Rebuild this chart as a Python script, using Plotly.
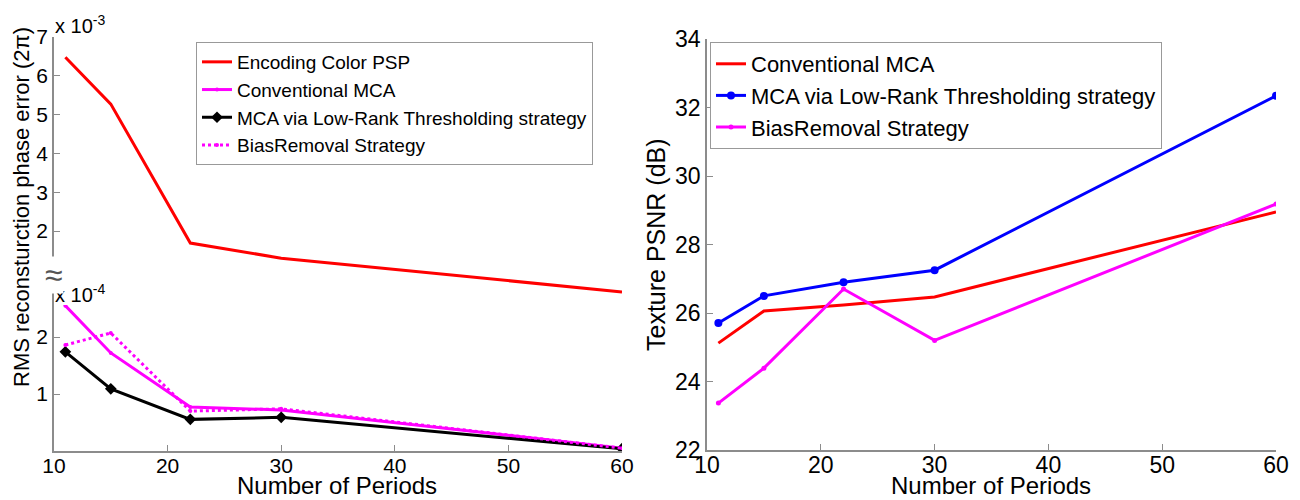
import plotly.graph_objects as go

# ---------------- data ----------------
periods = [11, 15, 22, 30, 60]

# left panel (upper part, x 10^-3)
rms_encoding_psp = [6.48, 5.27, 1.69, 1.30, 0.43]
# left panel (lower part, x 10^-4)
rms_conventional = [2.55, 1.72, 0.77, 0.72, 0.05]
rms_lowrank = [1.74, 1.09, 0.555, 0.59, 0.04]
rms_biasremoval = [1.86, 2.07, 0.70, 0.74, 0.05]

# right panel (dB)
psnr_conventional = [25.12, 26.06, 26.23, 26.47, 28.95]
psnr_lowrank = [25.71, 26.50, 26.90, 27.25, 32.34]
psnr_biasremoval = [23.37, 24.39, 26.70, 25.20, 29.18]

x_ticks = [10, 20, 30, 40, 50, 60]
upper_ticks = [2, 3, 4, 5, 6, 7]
lower_ticks = [1, 2]
right_ticks = [22, 24, 26, 28, 30, 32, 34]

W, H = 1300, 500
FONT = "Liberation Sans, Arial, sans-serif"
AX = "#8c8c8c"
RED, MAG, BLK, BLU = "#ff0000", "#ff00ff", "#000000", "#0000ff"


def px(x):
    return x / W


def py(y):
    return 1 - y / H


fig = go.Figure()

# left panel traces
fig.add_trace(go.Scatter(x=periods, y=rms_encoding_psp, name="Encoding Color PSP",
                         mode="lines", line=dict(color=RED, width=3),
                         xaxis="x", yaxis="y2", legend="legend"))
fig.add_trace(go.Scatter(x=periods, y=rms_conventional, name="Conventional MCA",
                         mode="lines+markers", line=dict(color=MAG, width=3),
                         marker=dict(size=4, color=MAG),
                         xaxis="x", yaxis="y", legend="legend"))
fig.add_trace(go.Scatter(x=periods, y=rms_lowrank, name="MCA via Low-Rank Thresholding strategy",
                         mode="lines+markers", line=dict(color=BLK, width=3),
                         marker=dict(size=9, color=BLK, symbol="diamond"),
                         xaxis="x", yaxis="y", legend="legend"))
fig.add_trace(go.Scatter(x=periods, y=rms_biasremoval, name="BiasRemoval Strategy",
                         mode="lines+markers", line=dict(color=MAG, width=3, dash="dot"),
                         marker=dict(size=4, color=MAG),
                         xaxis="x", yaxis="y", legend="legend"))

# right panel traces
fig.add_trace(go.Scatter(x=periods, y=psnr_conventional, name="Conventional MCA",
                         mode="lines", line=dict(color=RED, width=3),
                         xaxis="x3", yaxis="y3", legend="legend2"))
fig.add_trace(go.Scatter(x=periods, y=psnr_lowrank, name="MCA via Low-Rank Thresholding strategy",
                         mode="lines+markers", line=dict(color=BLU, width=3),
                         marker=dict(size=8, color=BLU),
                         xaxis="x3", yaxis="y3", legend="legend2"))
fig.add_trace(go.Scatter(x=periods, y=psnr_biasremoval, name="BiasRemoval Strategy",
                         mode="lines+markers", line=dict(color=MAG, width=3),
                         marker=dict(size=5, color=MAG),
                         xaxis="x3", yaxis="y3", legend="legend2"))


def axis_style(size, standoff=0):
    return dict(showline=True, linecolor=AX, linewidth=1.5, ticks="inside",
                ticklen=6, tickcolor=AX, showgrid=False, zeroline=False,
                automargin=False, ticklabelstandoff=standoff,
                tickfont=dict(family=FONT, size=size, color="black"))


lower_top = 305
upper_top = 37

fig.update_layout(
    width=W, height=H,
    margin=dict(l=0, r=0, t=0, b=0, autoexpand=False),
    paper_bgcolor="white", plot_bgcolor="white",
    font=dict(family=FONT, color="black"),
    xaxis=dict(domain=[px(54), px(622)], range=[10, 60], tickvals=x_ticks,
               anchor="y", **axis_style(21, -5)),
    yaxis=dict(domain=[py(451), py(lower_top)], range=[0, (451 - lower_top) / 57.0],
               tickvals=lower_ticks, anchor="x", **axis_style(21)),
    yaxis2=dict(domain=[py(lower_top), py(upper_top)],
                range=[2 - (lower_top - 231) / 38.8, 7], tickvals=upper_ticks,
                anchor="x", **axis_style(21)),
    xaxis3=dict(domain=[px(707), px(1276)], range=[10, 60], tickvals=x_ticks,
                anchor="y3", **axis_style(23, -6)),
    yaxis3=dict(domain=[py(450), py(39)], range=[22, 34], tickvals=right_ticks,
                anchor="x3", **axis_style(23)),
    legend=dict(x=px(196), y=py(42), xanchor="left", yanchor="top",
                bordercolor="#999999", borderwidth=1, bgcolor="white",
                font=dict(family=FONT, size=19, color="black"),
                itemwidth=30, tracegroupgap=0),
    legend2=dict(x=px(710), y=py(42), xanchor="left", yanchor="top",
                 bordercolor="#999999", borderwidth=1, bgcolor="white",
                 font=dict(family=FONT, size=22, color="black"),
                 itemwidth=30, tracegroupgap=0),
    showlegend=True,
)


def ann(text, x, y, size, angle=0, xanchor="center", **kw):
    return dict(text=text, x=px(x), y=py(y), xref="paper", yref="paper",
                xanchor=xanchor, yanchor="middle", showarrow=False, textangle=angle,
                font=dict(family=FONT, size=size, color=kw.pop("color", "black")), **kw)


annotations = [
    ann("Number of Periods", 337, 485, 24),
    ann("Number of Periods", 991, 485, 24),
    ann("RMS reconsturction phase error (2\u03c0)", 22, 207, 22, angle=-90),
    ann("Texture PSNR (dB)", 656, 245, 25, angle=-90),
    ann("x 10<sup>-3</sup>", 53, 24, 20, xanchor="left"),
    ann("x 10<sup>-4</sup>", 53, 293, 20, xanchor="left"),
    ann("\u2248", 54, 275, 32, color="#555555", bgcolor="white", borderpad=0),
]
fig.update_layout(annotations=annotations)

fig.write_html("out.html", config={"displayModeBar": False},
               post_script="document.body.style.margin='0';document.body.style.overflow='hidden';")
